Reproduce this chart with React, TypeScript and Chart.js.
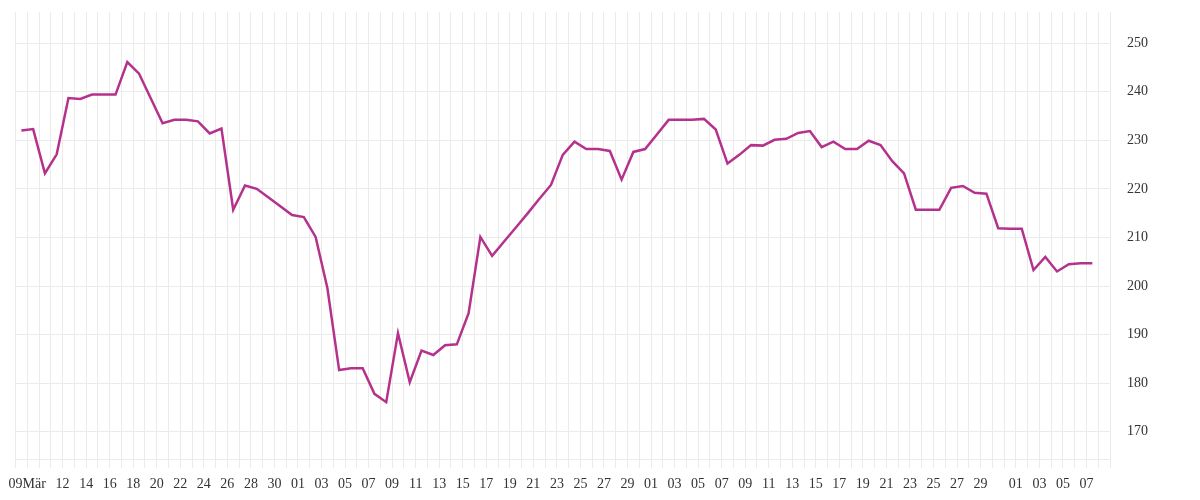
import React, { useEffect, useRef } from "react";
import { Chart, registerables } from "chart.js";

Chart.register(...registerables);

// Daily categories (Mar 9 – Jun 9); the last day has no value
const categories = [
  "03-09","03-10","03-11","03-12","03-13","03-14","03-15","03-16","03-17","03-18",
  "03-19","03-20","03-21","03-22","03-23","03-24","03-25","03-26","03-27","03-28",
  "03-29","03-30","03-31",
  "04-01","04-02","04-03","04-04","04-05","04-06","04-07","04-08","04-09","04-10",
  "04-11","04-12","04-13","04-14","04-15","04-16","04-17","04-18","04-19","04-20",
  "04-21","04-22","04-23","04-24","04-25","04-26","04-27","04-28","04-29","04-30",
  "05-01","05-02","05-03","05-04","05-05","05-06","05-07","05-08","05-09","05-10",
  "05-11","05-12","05-13","05-14","05-15","05-16","05-17","05-18","05-19","05-20",
  "05-21","05-22","05-23","05-24","05-25","05-26","05-27","05-28","05-29","05-30",
  "05-31",
  "06-01","06-02","06-03","06-04","06-05","06-06","06-07","06-08","06-09",
];

const values = [
  232.0, 232.3, 223.2, 227.1, 238.7, 238.5, 239.4, 239.4, 239.4, 246.1,
  243.7, 238.6, 233.5, 234.2, 234.2, 233.9, 231.4, 232.4, 215.7, 220.7,
  220.0, 218.2, 216.4,
  214.6, 214.2, 210.1, 199.6, 182.7, 183.1, 183.1, 177.8, 176.1, 190.3,
  180.2, 186.7, 185.8, 187.8, 188.0, 194.4, 210.1, 206.2, 209.1, 212.0,
  214.9, 217.9, 220.8, 227.0, 229.7, 228.2, 228.2, 227.8, 221.9, 227.6,
  228.2, 231.2, 234.2, 234.2, 234.2, 234.4, 232.2, 225.2, 227.0, 229.0,
  228.9, 230.1, 230.3, 231.5, 231.9, 228.6, 229.7, 228.2, 228.2, 229.9,
  229.0, 225.7, 223.2, 215.7, 215.7, 215.7, 220.2, 220.6, 219.2, 219.0,
  211.9,
  211.8, 211.8, 203.3, 206.0, 203.0, 204.5, 204.7, 204.7, null,
];

// Which categories carry a tick label, and the text shown
const tickDates = [
  "03-09","03-12","03-14","03-16","03-18","03-20","03-22","03-24","03-26","03-28","03-30",
  "04-01","04-03","04-05","04-07","04-09","04-11","04-13","04-15","04-17","04-19",
  "04-21","04-23","04-25","04-27","04-29",
  "05-01","05-03","05-05","05-07","05-09","05-11","05-13","05-15","05-17","05-19",
  "05-21","05-23","05-25","05-27","05-29",
  "06-01","06-03","06-05","06-07",
];
const tickTexts = [
  "09Mär","12","14","16","18","20","22","24","26","28","30",
  "01","03","05","07","09","11","13","15","17","19",
  "21","23","25","27","29",
  "01","03","05","07","09","11","13","15","17","19",
  "21","23","25","27","29",
  "01","03","05","07",
];

const yMin = 164.4;
const yMax = 256.4;
const yStep = 10;

const LINE_COLOR = "#b5328c";
const GRID_COLOR = "#ebebeb";
const TEXT_COLOR = "#333333";
const FONT_FAMILY = "'Liberation Serif', 'Times New Roman', serif";

export default function App() {
  const canvasRef = useRef<HTMLCanvasElement | null>(null);

  useEffect(() => {
    document.body.style.margin = "0";
    const canvas = canvasRef.current;
    if (!canvas) return;
    const chart = new Chart(canvas, {
      type: "line",
      data: {
        labels: categories,
        datasets: [
          {
            data: values,
            borderColor: LINE_COLOR,
            backgroundColor: LINE_COLOR,
            borderWidth: 2.5,
            pointRadius: 0,
            pointHoverRadius: 0,
            tension: 0,
            fill: false,
            spanGaps: false,
          },
        ],
      },
      options: {
        animation: false,
        responsive: false,
        maintainAspectRatio: false,
        layout: { padding: { left: 15.5, top: 12, right: 52, bottom: 0 } },
        plugins: {
          legend: { display: false },
          tooltip: { enabled: false },
        },
        scales: {
          x: {
            type: "category",
            offset: true,
            afterFit: (scale: any) => {
              scale.height = 41;
              scale.paddingLeft = 0;
              scale.paddingRight = 0;
            },
            grid: {
              offset: true,
              color: GRID_COLOR,
              lineWidth: 1,
              tickLength: 9,
              drawTicks: true,
            },
            border: { display: true, color: GRID_COLOR },
            ticks: {
              autoSkip: false,
              maxRotation: 0,
              minRotation: 0,
              labelOffset: 5.9,
              padding: 7.5,
              color: TEXT_COLOR,
              font: { family: FONT_FAMILY, size: 14 },
              callback: (_v: any, index: number) => {
                const k = tickDates.indexOf(categories[index]);
                return k >= 0 ? tickTexts[k] : "";
              },
            },
          },
          y: {
            position: "right",
            min: yMin,
            max: yMax,
            afterBuildTicks: (scale: any) => {
              scale.ticks = scale.ticks.filter(
                (t: any) => Math.abs(t.value / yStep - Math.round(t.value / yStep)) < 1e-6
              );
            },
            afterFit: (scale: any) => {
              scale.width = 38;
              scale.paddingTop = 0;
              scale.paddingBottom = 0;
            },
            grid: { color: GRID_COLOR, lineWidth: 1, drawTicks: false },
            border: { display: false },
            ticks: {
              stepSize: yStep,
              padding: 17,
              color: TEXT_COLOR,
              font: { family: FONT_FAMILY, size: 14 },
            },
          },
        },
      },
    });
    return () => chart.destroy();
  }, []);

  return (
    <div style={{ width: 1200, height: 500, background: "#ffffff" }}>
      <canvas ref={canvasRef} width={1200} height={500} style={{ display: "block" }} />
    </div>
  );
}
